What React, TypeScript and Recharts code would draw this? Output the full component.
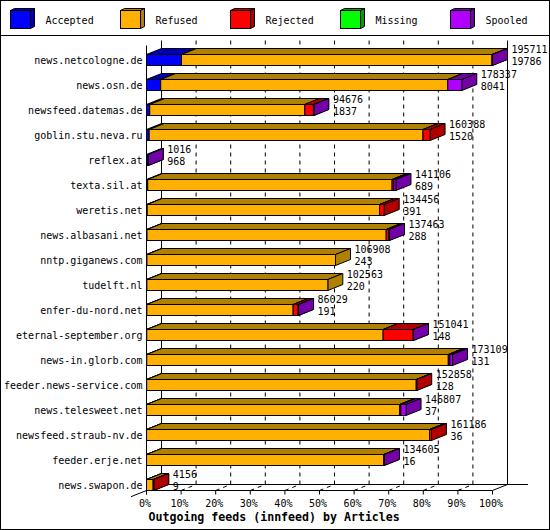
import React from "react";
import {
  BarChart,
  Bar,
  XAxis,
  YAxis,
  CartesianGrid,
  Legend,
  LabelList,
} from "recharts";

const hosts = [
  "news.netcologne.de",
  "news.osn.de",
  "newsfeed.datemas.de",
  "goblin.stu.neva.ru",
  "reflex.at",
  "texta.sil.at",
  "weretis.net",
  "news.albasani.net",
  "nntp.giganews.com",
  "tudelft.nl",
  "enfer-du-nord.net",
  "eternal-september.org",
  "news-in.glorb.com",
  "feeder.news-service.com",
  "news.telesweet.net",
  "newsfeed.straub-nv.de",
  "feeder.erje.net",
  "news.swapon.de",
];
const totals = [
  195711, 178337, 94676, 160388, 1016, 141106, 134456, 137463, 106908, 102563,
  86029, 151041, 173109, 152858, 146807, 161186, 134605, 4156,
];
const accepted = [
  19786, 8041, 1837, 1520, 968, 689, 391, 288, 243, 220, 191, 148, 131, 128, 37,
  36, 16, 9,
];
const refused = [
  175625, 162376, 87689, 154868, 0, 138217, 131465, 135275, 106665, 102343,
  82738, 133693, 170578, 152430, 143170, 160050, 134189, 3747,
];
const rejected = [
  0, 0, 4900, 4000, 0, 1000, 2600, 1600, 0, 0, 2800, 17000, 900, 300, 700, 1100,
  0, 400,
];
const missing = [0, 0, 0, 0, 0, 0, 0, 0, 0, 0, 0, 0, 0, 0, 0, 0, 0, 0];
const spooled = [
  300, 7920, 250, 0, 48, 1200, 0, 300, 0, 0, 300, 200, 1500, 0, 2900, 0, 400, 0,
];
const pctTicks = [0, 10, 20, 30, 40, 50, 60, 70, 80, 90, 100];

const series = [
  { key: "accepted", name: "Accepted", front: "#0000ff", dark: "#0000b0" },
  { key: "refused", name: "Refused", front: "#ffb000", dark: "#b08000" },
  { key: "rejected", name: "Rejected", front: "#ff0000", dark: "#b00000" },
  { key: "missing", name: "Missing", front: "#00ff00", dark: "#00a000" },
  { key: "spooled", name: "Spooled", front: "#b000ff", dark: "#7400a8" },
];

const maxTotal = Math.max(...totals);
const pct = (v: number) => (v / maxTotal) * 100;

const data = hosts.map((host, i) => ({
  host,
  accepted: pct(accepted[i]),
  refused: pct(refused[i]),
  rejected: pct(rejected[i]),
  missing: pct(missing[i]),
  spooled: pct(spooled[i]),
}));

// layout
const LEFT = 146.5;
const PLOT_W = 346;
const RIGHT = LEFT + PLOT_W;
const DX = 15;
const DY = 6;
const WALL_TOP = 40.5;
const FRONT_FLOOR = 490.5;
const BACK_FLOOR = FRONT_FLOOR - DY;
const FONT = "DejaVu Sans Mono";

const makeBox = (front: string, dark: string) => (p: any) => {
  const { x, y, width, height } = p;
  if (!width || width <= 0) return <g />;
  const x2 = x + width;
  return (
    <g stroke="#000" strokeWidth={1}>
      <polygon
        points={`${x},${y} ${x + DX},${y - DY} ${x2 + DX},${y - DY} ${x2},${y}`}
        fill={dark}
      />
      <polygon
        points={`${x2},${y} ${x2 + DX},${y - DY} ${x2 + DX},${y + height - DY} ${x2},${y + height}`}
        fill={dark}
      />
      <rect x={x} y={y} width={width} height={height} fill={front} />
    </g>
  );
};

const renderWall = (p: any) => {
  const x = p.x1;
  const atLeft = Math.abs(x - LEFT) < 0.6;
  const atRight = Math.abs(x - RIGHT) < 0.6;
  return (
    <g key={p.key} stroke="#000" strokeWidth={1} fill="none">
      {atLeft && (
        <g>
          <line x1={LEFT + DX} y1={WALL_TOP} x2={LEFT + DX} y2={BACK_FLOOR} />
          <line x1={RIGHT + DX} y1={WALL_TOP} x2={RIGHT + DX} y2={BACK_FLOOR} />
          <line x1={LEFT} y1={WALL_TOP + 5} x2={LEFT} y2={FRONT_FLOOR + 4} />
          <line x1={LEFT + DX} y1={BACK_FLOOR} x2={RIGHT + 35.5} y2={BACK_FLOOR} />
          <line x1={LEFT} y1={FRONT_FLOOR} x2={RIGHT} y2={FRONT_FLOOR} />
          <line x1={RIGHT} y1={FRONT_FLOOR} x2={RIGHT + DX} y2={BACK_FLOOR} />
          <line x1={LEFT + DX} y1={BACK_FLOOR} x2={LEFT - 15.5} y2={FRONT_FLOOR + 6.2} />
        </g>
      )}
      {!atLeft && !atRight && (
        <g strokeDasharray="4 4">
          <line x1={x + DX} y1={WALL_TOP} x2={x + DX} y2={BACK_FLOOR} />
          <line x1={x} y1={FRONT_FLOOR} x2={x + DX} y2={BACK_FLOOR} />
        </g>
      )}
      <line x1={x} y1={FRONT_FLOOR} x2={x} y2={FRONT_FLOOR + 4} />
    </g>
  );
};

const HostTick = (p: any) => (
  <text
    x={LEFT - 4}
    y={p.y + 3.5}
    textAnchor="end"
    fontFamily={FONT}
    fontSize={10}
    fill="#000"
  >
    {p.payload.value}
  </text>
);

const PctTick = (p: any) => (
  <text
    x={p.x - 1.5}
    y={507}
    textAnchor="middle"
    fontFamily={FONT}
    fontSize={10}
    fill="#000"
  >
    {p.payload.value}%
  </text>
);

const EndLabel = (p: any) => {
  const vb = p.viewBox || p;
  const i = p.index;
  const tx = vb.x + vb.width + DX + 4;
  const cy = vb.y + vb.height / 2;
  return (
    <g fontFamily={FONT} fontSize={10} fill="#000">
      <text x={tx} y={cy - 7.5}>
        {totals[i]}
      </text>
      <text x={tx} y={cy + 5}>
        {accepted[i]}
      </text>
    </g>
  );
};

const Title = (p: any) => (
  <text
    x={LEFT + 2}
    y={521}
    fontFamily={FONT}
    fontSize={11.6}
    fontWeight="bold"
    fill="#000"
  >
    Outgoing feeds (innfeed) by Articles
  </text>
);

const LegendBox = () => (
  <svg width={550} height={36} style={{ display: "block" }}>
    {series.map((s, i) => {
      const x = 10.5 + 110 * i;
      const y = 10.5;
      const w = 20;
      const h = 18;
      return (
        <g key={s.key}>
          <g stroke="#000" strokeWidth={1}>
            <polygon
              points={`${x},${y} ${x + 4},${y - 2} ${x + w + 4},${y - 2} ${x + w},${y}`}
              fill={s.dark}
            />
            <polygon
              points={`${x + w},${y} ${x + w + 4},${y - 2} ${x + w + 4},${y + h - 2} ${x + w},${y + h}`}
              fill={s.dark}
            />
            <rect x={x} y={y} width={w} height={h} fill={s.front} />
          </g>
          <text x={x + 35} y={23.5} fontFamily={FONT} fontSize={10} fill="#000">
            {s.name}
          </text>
        </g>
      );
    })}
    <line x1={0} y1={35.5} x2={550} y2={35.5} stroke="#000" />
  </svg>
);

export default function App() {
  return (
    <div style={{ position: "relative", width: 550, height: 530, background: "#fff" }}>
      <style>{`body{margin:0;background:#fff}`}</style>
      <BarChart
        width={550}
        height={530}
        data={data}
        layout="vertical"
        margin={{ top: 11.5, right: 550 - RIGHT, bottom: 12.5, left: 6.5 }}
      >
        <Legend
          verticalAlign="top"
          align="left"
          content={<LegendBox />}
          wrapperStyle={{ top: 0, left: 0, width: 550, height: 36, lineHeight: 0 }}
        />
        <CartesianGrid horizontal={false} vertical={renderWall} />
        <XAxis
          type="number"
          domain={[0, 100]}
          ticks={pctTicks}
          axisLine={false}
          tickLine={false}
          height={20}
          tick={<PctTick />}
          label={{ content: <Title /> }}
        />
        <YAxis
          type="category"
          dataKey="host"
          width={140}
          axisLine={false}
          tickLine={false}
          tick={<HostTick />}
          interval={0}
        />
        {series.map((s, i) => (
          <Bar
            key={s.key}
            dataKey={s.key}
            name={s.name}
            stackId="a"
            barSize={11}
            fill={s.front}
            shape={makeBox(s.front, s.dark)}
            isAnimationActive={false}
          >
            {i === series.length - 1 && <LabelList content={<EndLabel />} />}
          </Bar>
        ))}
      </BarChart>
      <div
        style={{
          position: "absolute",
          inset: 0,
          border: "1px solid #000",
          boxSizing: "border-box",
          pointerEvents: "none",
        }}
      />
    </div>
  );
}
